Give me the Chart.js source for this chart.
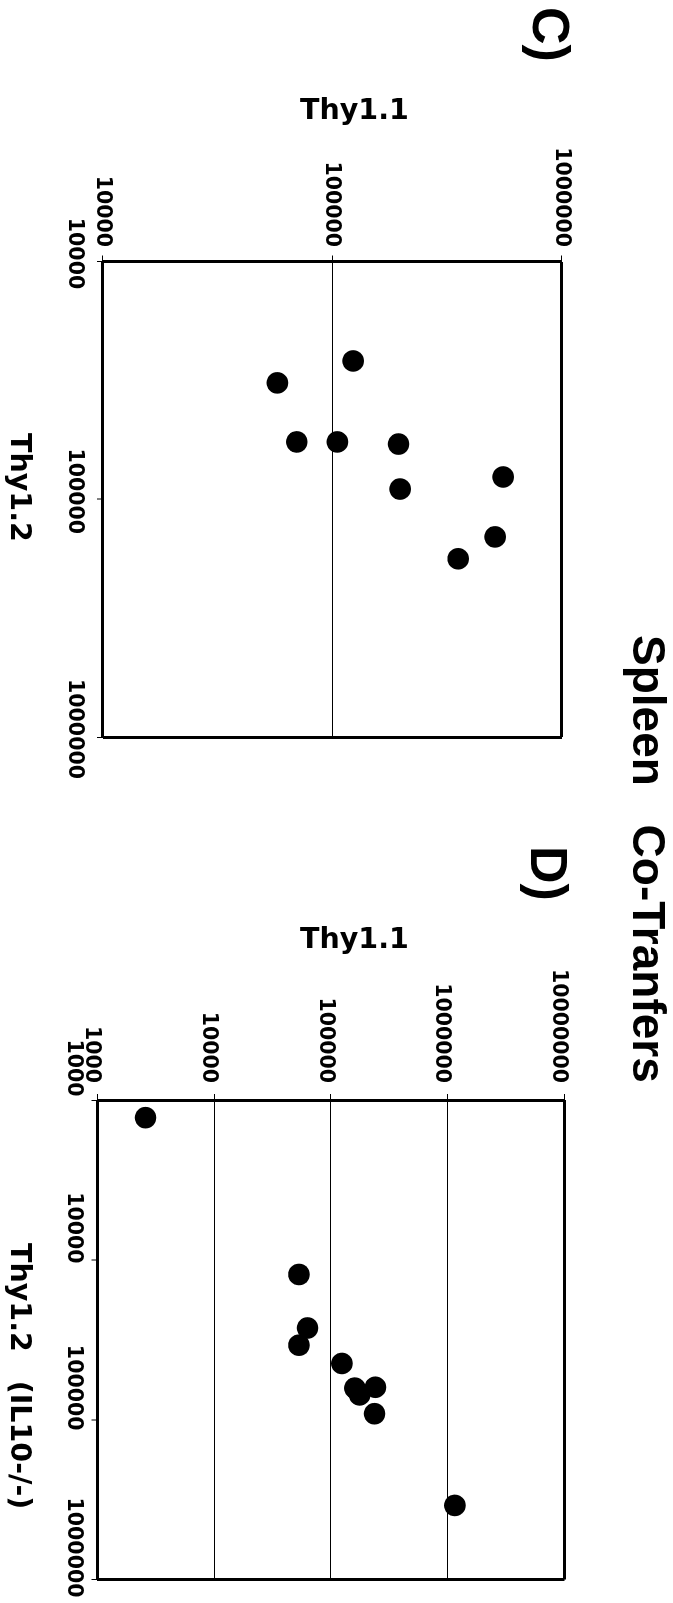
<!DOCTYPE html>
<html>
<head>
<meta charset="utf-8">
<script src="https://cdn.jsdelivr.net/npm/chart.js@4.4.1/dist/chart.umd.min.js"></script>
<style>
html,body{margin:0;padding:0;background:#fff;overflow:hidden;width:673px;height:1603px;}
#land{position:absolute;left:0;top:0;width:1603px;height:673px;transform-origin:0 0;transform:translateX(673px) rotate(90deg);}
.t{position:absolute;white-space:nowrap;line-height:1;color:#000;font-weight:bold;margin:0;}
.big{font-family:'Liberation Sans',Arial,sans-serif;}
.ax{font-family:'DejaVu Sans',sans-serif;font-size:28.5px;}
canvas{position:absolute;top:0;}
</style>
</head>
<body>
<div id="land">
  <canvas id="chartC" width="800" height="673" style="left:0px"></canvas>
  <canvas id="chartD" width="803" height="673" style="left:800px"></canvas>
  <div class="t big" style="left:635px;top:1px;font-size:46px;word-spacing:26px;">Spleen Co-Tranfers</div>
  <div class="t big" style="left:7px;top:96px;font-size:52px;">C)</div>
  <div class="t big" style="left:846px;top:98px;font-size:52px;">D)</div>
  <div class="t ax" style="left:433px;top:639px;">Thy1.2</div>
  <div class="t ax" style="left:1243px;top:639px;word-spacing:19px;">Thy1.2 (IL10-/-)</div>
</div>
<div class="t ax" style="left:300px;top:96px;">Thy1.1</div>
<div class="t ax" style="left:300px;top:925px;">Thy1.1</div>
<script>
// ---- Panel C data (Spleen co-transfers) ----
const thy12_C = [26200, 32400, 57400, 57400, 58600, 90600, 80600, 144000, 178000];
const thy11_C = [123000, 57500, 69900, 105000, 194000, 197000, 554000, 511000, 353000];
const ticksC_thy12 = [10000, 100000, 1000000];
const labelsC_thy12 = ['10000', '100000', '1000000'];
const ticksC_thy11 = [10000, 100000, 1000000];
const labelsC_thy11 = ['10000', '100000', '1000000'];

// ---- Panel D data (Thy1.2 = IL10-/-) ----
const thy12_D = [1290, 12350, 26700, 34200, 44500, 63500, 70000, 62700, 91800, 344000];
const thy11_D = [2580, 53200, 63000, 53200, 124000, 160000, 176000, 240000, 236000, 1150000];
const ticksD_thy12 = [1000, 10000, 100000, 1000000];
const labelsD_thy12 = ['1000', '10000', '100000', '1000000'];
const ticksD_thy11 = [1000, 10000, 100000, 1000000, 10000000];
const labelsD_thy11 = ['1000', '10000', '100000', '1000000', '10000000'];

const tickFont = {family: "'DejaVu Sans', sans-serif", weight: 'bold', size: 20.5};

function isEdge(ctx) {
  return ctx.index === 0 || ctx.index === ctx.scale.ticks.length - 1;
}

function makeChart(id, xs, ys, xTicks, xLabels, yTicks, yLabels, g) {
  const pts = xs.map((v, i) => ({x: v, y: ys[i]}));
  return new Chart(document.getElementById(id), {
    type: 'scatter',
    data: {datasets: [{
      data: pts,
      backgroundColor: '#000',
      borderColor: '#000',
      borderWidth: 0,
      pointRadius: 10.8,
      pointHoverRadius: 10.8
    }]},
    options: {
      responsive: false,
      maintainAspectRatio: false,
      animation: false,
      events: [],
      layout: {padding: g.padding},
      plugins: {legend: {display: false}, tooltip: {enabled: false}, title: {display: false}},
      scales: {
        x: {
          type: 'logarithmic', position: 'bottom',
          min: xTicks[0], max: xTicks[xTicks.length - 1],
          afterBuildTicks: s => { s.ticks = xTicks.map(v => ({value: v})); },
          afterFit: s => { s.height = g.xHeight; s.paddingLeft = 0; s.paddingRight = 0; },
          ticks: {
            callback: (v, i) => xLabels[i],
            font: tickFont, color: '#000', padding: g.xPad, labelOffset: g.xOffset,
            autoSkip: false, maxRotation: 0, minRotation: 0
          },
          grid: {
            color: '#000',
            lineWidth: ctx => isEdge(ctx) ? 3 : 0,
            drawTicks: true, tickLength: 6, tickWidth: 1, tickColor: '#000'
          },
          border: {display: false}
        },
        y: {
          type: 'logarithmic', position: 'left',
          min: yTicks[0], max: yTicks[yTicks.length - 1],
          afterBuildTicks: s => { s.ticks = yTicks.map(v => ({value: v})); },
          afterFit: s => { s.width = g.yWidth; s.paddingTop = 0; s.paddingBottom = 0; },
          ticks: {
            callback: (v, i) => yLabels[i],
            font: tickFont, color: '#000', padding: g.yPad, labelOffset: g.yOffset,
            autoSkip: false
          },
          grid: {
            color: '#000',
            lineWidth: ctx => isEdge(ctx) ? 3 : 1,
            drawTicks: true, tickLength: 6, tickWidth: 1, tickColor: '#000'
          },
          border: {display: false}
        }
      }
    }
  });
}

makeChart('chartC', thy12_C, thy11_C, ticksC_thy12, labelsC_thy12, ticksC_thy11, labelsC_thy11,
  {padding: {left: 0, top: 111, right: 63, bottom: 0}, xHeight: 103, yWidth: 261.5,
   xPad: 10, xOffset: -8, yPad: 8.5, yOffset: 1});

makeChart('chartD', thy12_D, thy11_D, ticksD_thy12, labelsD_thy12, ticksD_thy11, labelsD_thy11,
  {padding: {left: 0, top: 108.5, right: 23.5, bottom: 0}, xHeight: 97.5, yWidth: 300,
   xPad: 6, xOffset: -32, yPad: 11, yOffset: 6});
</script>
</body>
</html>
